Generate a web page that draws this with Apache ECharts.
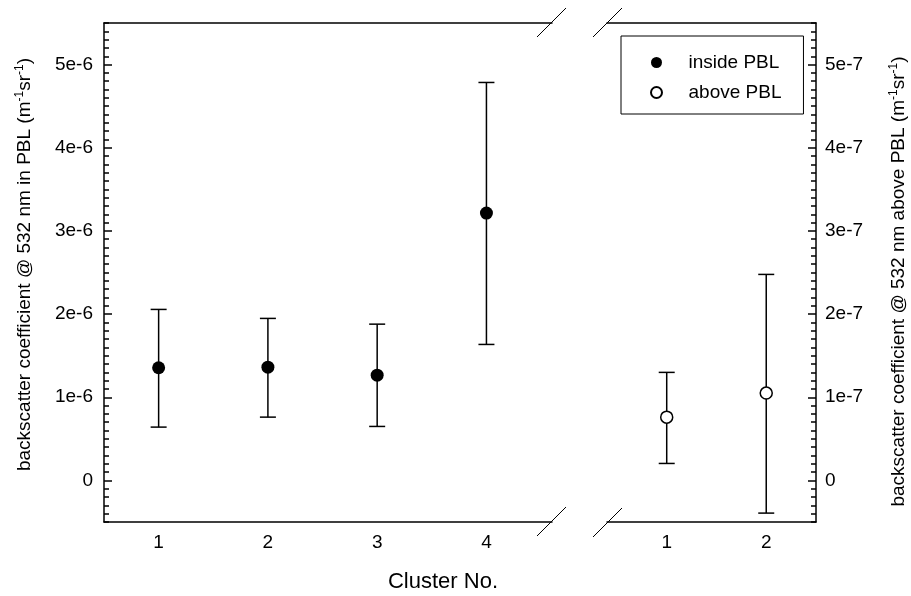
<!DOCTYPE html>
<html>
<head>
<meta charset="utf-8">
<script src="https://cdn.jsdelivr.net/npm/echarts@6/dist/echarts.min.js"></script>
<style>
  html, body { margin: 0; padding: 0; background: #fff; }
  #main { width: 911px; height: 596px; }
</style>
</head>
<body>
<div id="main"></div>
<script>
// inside PBL (left panel)
const insideClusters = [1, 2, 3, 4];
const insideMean = [1.355e-6, 1.362e-6, 1.266e-6, 3.214e-6];
const insideUpper = [2.056e-6, 1.948e-6, 1.879e-6, 4.785e-6];
const insideLower = [0.641e-6, 0.761e-6, 0.649e-6, 1.635e-6];

// above PBL (right panel)
const aboveClusters = [1, 2];
const aboveMean = [0.761e-7, 1.050e-7];
const aboveUpper = [1.299e-7, 2.477e-7];
const aboveLower = [0.204e-7, -0.393e-7];

// tick labels
const leftTicks = [0, 1e-6, 2e-6, 3e-6, 4e-6, 5e-6];
const leftTickLabels = ["0", "1e-6", "2e-6", "3e-6", "4e-6", "5e-6"];
const rightTicks = [0, 1e-7, 2e-7, 3e-7, 4e-7, 5e-7];
const rightTickLabels = ["0", "1e-7", "2e-7", "3e-7", "4e-7", "5e-7"];
const leftXTicks = [1, 2, 3, 4];
const rightXTicks = [1, 2];

const FONT = "Liberation Sans";
const lineStyle = { color: "#000", width: 1.5 };

const labelFor = (ticks, labels) => (v) => {
  const i = ticks.findIndex((t) => Math.abs(t - v) < Math.abs(ticks[1]) * 1e-3);
  return i >= 0 ? labels[i] : "";
};

const myChart = echarts.init(document.getElementById("main"));

// 误差线
const errorBar = (params, api) => {
  const x = api.value(0);
  const hi = api.coord([x, api.value(1)]);
  const lo = api.coord([x, api.value(2)]);
  const w = 8;
  const st = { stroke: "#000", lineWidth: 1.5 };
  return {
    type: "group",
    children: [
      { type: "line", shape: { x1: hi[0], y1: hi[1], x2: lo[0], y2: lo[1] }, style: st },
      { type: "line", shape: { x1: hi[0] - w, y1: hi[1], x2: hi[0] + w, y2: hi[1] }, style: st },
      { type: "line", shape: { x1: lo[0] - w, y1: lo[1], x2: lo[0] + w, y2: lo[1] }, style: st }
    ]
  };
};

const slash = (x, y) => ({
  type: "line",
  shape: { x1: x, y1: y + 29, x2: x + 29, y2: y },
  style: { stroke: "#000", lineWidth: 1 }
});

const xAxisBase = (grid, pos, min, max, ticks) => ({
  type: "value", gridIndex: grid, position: pos, min: min, max: max,
  axisLine: { show: true, onZero: false, lineStyle: lineStyle },
  axisTick: { show: false },
  splitLine: { show: false },
  axisLabel: ticks
    ? { customValues: ticks, fontSize: 19, color: "#000", margin: 11, fontFamily: FONT }
    : { show: false }
});

const option = {
  animation: false,
  backgroundColor: "#fff",
  textStyle: { fontFamily: FONT, color: "#000" },
  grid: [
    { left: 104, top: 23, width: 448, height: 499 },
    { left: 607, top: 23, width: 211, height: 499 }
  ],
  xAxis: [
    xAxisBase(0, "bottom", 0.5, 4.6, leftXTicks),
    xAxisBase(0, "top", 0.5, 4.6, null),
    xAxisBase(1, "bottom", 0.4, 2.5, rightXTicks),
    xAxisBase(1, "top", 0.4, 2.5, null)
  ],
  yAxis: [
    {
      type: "value", gridIndex: 0, position: "left", min: -0.5e-6, max: 5.5e-6,
      axisLine: { show: true, onZero: false, lineStyle: lineStyle },
      axisTick: { show: true, inside: false, length: -8, customValues: leftTicks, lineStyle: lineStyle },
      splitLine: { show: false },
      axisLabel: {
        customValues: leftTicks, fontSize: 19, color: "#000", margin: 11, fontFamily: FONT,
        formatter: labelFor(leftTicks, leftTickLabels)
      },
      name: "backscatter coefficient @ 532 nm in PBL (m{sup|-1}sr{sup|-1})",
      nameLocation: "middle", nameRotate: 90, nameGap: 68,
      nameTextStyle: {
        fontSize: 19, color: "#000", fontFamily: FONT, lineHeight: 22, padding: [0, 0, 0, 16],
        rich: { sup: { fontSize: 12, verticalAlign: "top", fontFamily: FONT, color: "#000" } }
      }
    },
    {
      type: "value", gridIndex: 0, position: "left", min: -0.5e-6, max: 5.5e-6, interval: 0.1e-6,
      axisLine: { show: false, onZero: false },
      axisTick: { show: true, inside: false, length: -5, lineStyle: lineStyle },
      axisLabel: { show: false }, splitLine: { show: false }
    },
    {
      type: "value", gridIndex: 1, position: "right", min: -0.5e-7, max: 5.5e-7,
      axisLine: { show: true, onZero: false, lineStyle: lineStyle },
      axisTick: { show: true, inside: false, length: -8, customValues: rightTicks, lineStyle: lineStyle },
      splitLine: { show: false },
      axisLabel: {
        customValues: rightTicks, fontSize: 19, color: "#000", margin: 9, fontFamily: FONT,
        formatter: labelFor(rightTicks, rightTickLabels)
      },
      name: "backscatter coefficient @ 532 nm above PBL (m{sup|-1}sr{sup|-1})",
      nameLocation: "middle", nameRotate: 90, nameGap: 72,
      nameTextStyle: {
        fontSize: 19, color: "#000", fontFamily: FONT, lineHeight: 22, padding: [0, 18, 0, 0],
        rich: { sup: { fontSize: 12, verticalAlign: "top", fontFamily: FONT, color: "#000" } }
      }
    },
    {
      type: "value", gridIndex: 1, position: "right", min: -0.5e-7, max: 5.5e-7, interval: 0.1e-7,
      axisLine: { show: false, onZero: false },
      axisTick: { show: true, inside: false, length: -5, lineStyle: lineStyle },
      axisLabel: { show: false }, splitLine: { show: false }
    }
  ],
  legend: {
    orient: "vertical",
    left: 621, top: 36,
    padding: [17, 22, 12, 29],
    itemWidth: 54, itemHeight: 11, itemGap: 11,
    borderColor: "#000", borderWidth: 1, borderRadius: 0,
    textStyle: { fontSize: 19, color: "#000", fontFamily: FONT, lineHeight: 18 },
    selectedMode: false,
    data: ["inside PBL", "above PBL"]
  },
  series: [
    {
      type: "custom", name: "insideErr", xAxisIndex: 0, yAxisIndex: 0, z: 2,
      renderItem: errorBar, encode: { x: 0, y: [1, 2] },
      data: insideClusters.map((c, i) => [c, insideUpper[i], insideLower[i]])
    },
    {
      type: "custom", name: "aboveErr", xAxisIndex: 2, yAxisIndex: 2, z: 2,
      renderItem: errorBar, encode: { x: 0, y: [1, 2] },
      data: aboveClusters.map((c, i) => [c, aboveUpper[i], aboveLower[i]])
    },
    {
      type: "scatter", name: "inside PBL", xAxisIndex: 0, yAxisIndex: 0, z: 3,
      symbol: "circle", symbolSize: 13,
      itemStyle: { color: "#000", opacity: 1 },
      data: insideClusters.map((c, i) => [c, insideMean[i]])
    },
    {
      type: "scatter", name: "above PBL", xAxisIndex: 2, yAxisIndex: 2, z: 3,
      symbol: "circle", symbolSize: 12,
      itemStyle: { color: "#fff", borderColor: "#000", borderWidth: 1.5, opacity: 1 },
      data: aboveClusters.map((c, i) => [c, aboveMean[i]])
    }
  ],
  graphic: [
    slash(537, 8), slash(593, 8), slash(537, 507), slash(593, 508),
    {
      type: "text", x: 443, y: 582,
      style: { text: "Cluster No.", fontSize: 22, fontFamily: FONT, fill: "#000", textAlign: "center", textVerticalAlign: "middle" }
    }
  ]
};

myChart.setOption(option);
</script>
</body>
</html>
